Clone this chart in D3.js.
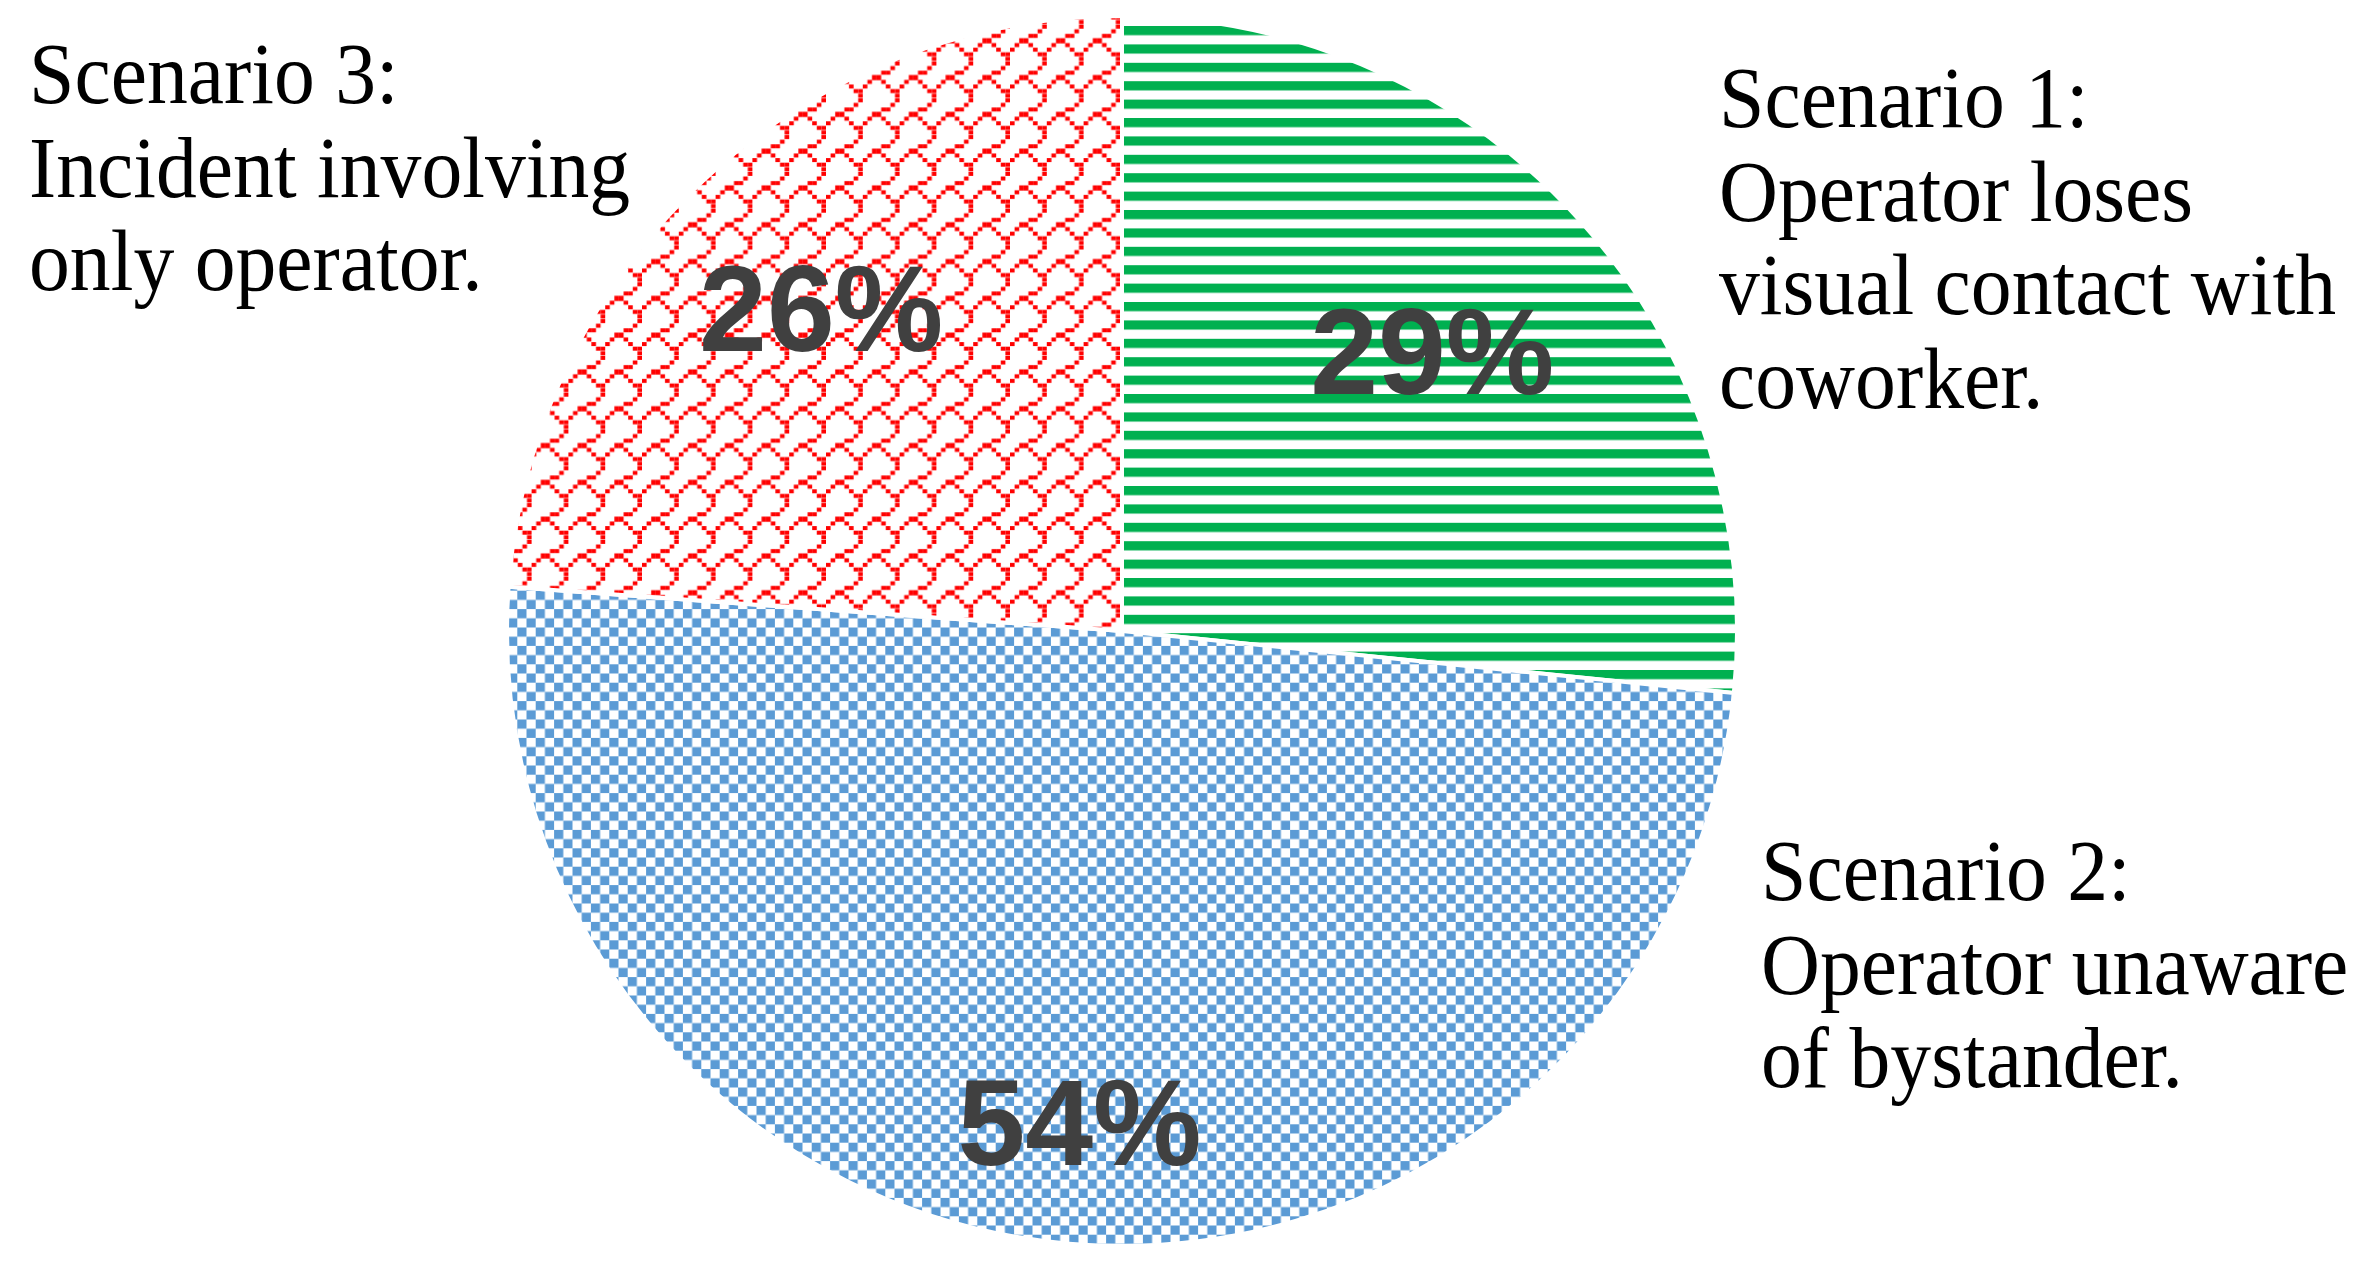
<!DOCTYPE html>
<html>
<head>
<meta charset="utf-8">
<script src="https://cdn.jsdelivr.net/npm/d3@7"></script>
<style>
  body { margin: 0; background: #fff; }
  svg { display: block; }
</style>
</head>
<body>
<svg id="chart" width="2379" height="1269"></svg>
<script>
// slice data, clockwise from 12 o'clock
var scenarios = ["Scenario 1", "Scenario 2", "Scenario 3"];
var values = [29, 54, 26];
var valueLabels = ["29%", "54%", "26%"];
var descriptions = [
  ["Scenario 1:", "Operator loses", "visual contact with", "coworker."],
  ["Scenario 2:", "Operator unaware", "of bystander."],
  ["Scenario 3:", "Incident involving", "only operator."]
];
var colors = ["#00b050", "#5b9bd5", "#ff0000"];

// shingle bitmap (8x8) used for the red slice, top row first
var shingleRows = [0x01, 0x01, 0x02, 0x0c, 0x30, 0x48, 0x84, 0x03];

var width = 2379, height = 1269;
var cx = 1122, cy = 631, radius = 615;
var px = 4.6; // size of one pattern bit

var svg = d3.select("#chart");
var defs = svg.append("defs");

// horizontal stripes (green)
var stripes = defs.append("pattern")
  .attr("id", "pat0")
  .attr("patternUnits", "userSpaceOnUse")
  .attr("x", 0).attr("y", 2.2)
  .attr("width", px * 4).attr("height", px * 4);
stripes.append("rect").attr("width", px * 4).attr("height", px * 4).attr("fill", "#fff");
stripes.append("rect").attr("width", px * 4).attr("height", px * 2).attr("fill", colors[0]);

// checkerboard (blue)
var check = defs.append("pattern")
  .attr("id", "pat1")
  .attr("patternUnits", "userSpaceOnUse")
  .attr("x", 2.5).attr("y", 14.9)
  .attr("width", px * 4).attr("height", px * 4);
check.append("rect").attr("width", px * 4).attr("height", px * 4).attr("fill", "#fff");
check.append("rect").attr("width", px * 2).attr("height", px * 2).attr("fill", colors[1]);
check.append("rect").attr("x", px * 2).attr("y", px * 2)
  .attr("width", px * 2).attr("height", px * 2).attr("fill", colors[1]);

// shingle (red)
var shingle = defs.append("pattern")
  .attr("id", "pat2")
  .attr("patternUnits", "userSpaceOnUse")
  .attr("x", 35.2).attr("y", 14.4)
  .attr("width", px * 8).attr("height", px * 8);
shingle.append("rect").attr("width", px * 8).attr("height", px * 8).attr("fill", "#fff");
var bits = [];
shingleRows.forEach(function (row, r) {
  for (var c = 0; c < 8; c++) {
    if (row & (0x80 >> c)) bits.push({ r: r, c: c });
  }
});
shingle.selectAll("rect.bit")
  .data(bits)
  .enter()
  .append("rect")
  .attr("class", "bit")
  .attr("x", function (d) { return d.c * px; })
  .attr("y", function (d) { return d.r === 4 ? d.r * px : d.r * px + 0.3; })
  .attr("width", px)
  .attr("height", function (d) { return d.r === 4 ? px + 0.6 : px - 0.6; })
  .attr("fill", colors[2]);

// pie layout, no sorting so slices keep their order
var pie = d3.pie().sort(null).value(function (d) { return d; });
var arcs = pie(values);
var arc = d3.arc().innerRadius(0).outerRadius(radius);

var g = svg.append("g").attr("transform", "translate(" + cx + "," + cy + ")");

g.selectAll("path.slice")
  .data(arcs)
  .enter()
  .append("path")
  .attr("class", "slice")
  .attr("d", arc)
  .attr("fill", function (d, i) { return "url(#pat" + i + ")"; })
  .attr("stroke", "#fff")
  .attr("stroke-width", 4)
  .attr("stroke-linejoin", "round");

// value labels sit at different depths like the original's best-fit placement
var labelDepth = [0.68, 0.80, 0.718];
g.selectAll("text.value")
  .data(arcs)
  .enter()
  .append("text")
  .attr("class", "value")
  .attr("transform", function (d, i) {
    var r = radius * labelDepth[i];
    var c = d3.arc().innerRadius(r).outerRadius(r).centroid(d);
    return "translate(" + c[0] + "," + c[1] + ")";
  })
  .attr("text-anchor", "middle")
  .attr("dy", "0.358em")
  .attr("font-family", "'Liberation Sans', Arial, sans-serif")
  .attr("font-weight", "bold")
  .attr("font-size", 122)
  .attr("fill", "#404040")
  .text(function (d, i) { return valueLabels[i]; });

// scenario descriptions placed outside the pie
var descPos = [[1719, 127], [1761, 900], [29, 103]];
var lineStep = 93.7;
var desc = svg.selectAll("text.desc")
  .data(descriptions)
  .enter()
  .append("text")
  .attr("class", "desc")
  .attr("transform", function (d, i) {
    return "translate(" + descPos[i][0] + "," + descPos[i][1] + ") scale(0.95,1)";
  })
  .attr("font-family", "'Liberation Serif', 'Times New Roman', serif")
  .attr("font-size", 86)
  .attr("fill", "#000");

desc.selectAll("tspan")
  .data(function (d) { return d; })
  .enter()
  .append("tspan")
  .attr("x", 0)
  .attr("dy", function (d, i) { return i === 0 ? 0 : lineStep; })
  .text(function (d) { return d; });
</script>
</body>
</html>
